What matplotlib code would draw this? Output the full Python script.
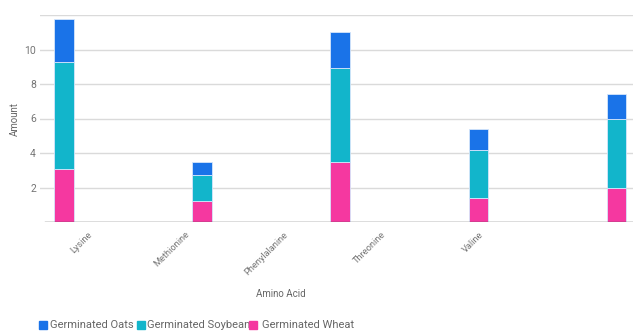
import matplotlib
matplotlib.use("Agg")
import matplotlib.pyplot as plt
from matplotlib.patches import Rectangle
import numpy as np

plt.rcParams['font.family'] = ['Roboto', 'DejaVu Sans']

acids = ['Lysine', 'Methionine', 'Phenylalanine', 'Threonine', 'Valine']
wheat = [3.1, 1.2, 3.5, 1.4, 2.0]
soybeans = [6.2, 1.5, 5.4, 2.8, 4.0]
oats = [2.45, 0.8, 2.1, 1.2, 1.4]
series_names = ['Germinated Oats', 'Germinated Soybeans', 'Germinated Wheat']
colors = {'oats': '#1a73e8', 'soy': '#12b5cb', 'wheat': '#f538a0'}

W, H = 633, 331
fig = plt.figure(figsize=(W / 100, H / 100), dpi=100)
ax = fig.add_axes([40 / W, 109 / H, 593 / W, 207 / H])

x = np.arange(len(acids))
wheat = np.array(wheat)
soybeans = np.array(soybeans)
oats = np.array(oats)
bw = 0.138
edge = dict(edgecolor='#d6e6fb', linewidth=0.6)
ax.bar(x, wheat, bw, color=colors['wheat'], zorder=3, **edge)
ax.bar(x, soybeans, bw, bottom=wheat, color=colors['soy'], zorder=3, **edge)
ax.bar(x, oats, bw, bottom=wheat + soybeans, color=colors['oats'], zorder=3, **edge)

ax.set_xlim(-0.174, 4.123)
ax.set_ylim(0, 12)
for s in ax.spines.values():
    s.set_visible(False)

# grid
for v in [2, 4, 6, 8, 10, 12]:
    ax.axhline(v, color='#dadada', lw=1, zorder=1)
ax.axhline(0, color='#555555', lw=1, zorder=4, xmin=0.008)

ax.set_yticks([2, 4, 6, 8, 10])
ax.tick_params(axis='y', length=0, pad=3, labelsize=7.5, labelcolor='#757575')

# x labels (offset as in the source rendering)
label_pos = 0.19 + 0.71 * x
ax.set_xticks(label_pos)
ax.set_xticklabels(acids, rotation=45, ha='right', va='center', rotation_mode='anchor')
ax.tick_params(axis='x', length=0, pad=8, labelsize=6.7, labelcolor='#757575')

ax.set_ylabel('Amount', fontsize=7, color='#666666', labelpad=3)
ax.set_xlabel('Amino Acid', fontsize=7, color='#666666')
ax.xaxis.set_label_coords((281 - 40) / 593, -(289 - 222) / 207)

# legend (manual, overlapping like the source)
sq_x = [39, 137, 249]
tx_x = [50, 147, 262]
keys = ['oats', 'soy', 'wheat']
for sx, tx, k, name in zip(sq_x, tx_x, keys, series_names):
    fig.add_artist(Rectangle((sx / W, 1 - 328.5 / H), 7.5 / W, 7.5 / H,
                             transform=fig.transFigure, color=colors[k], zorder=1))
    fig.text(tx / W, 1 - 324.5 / H, name, fontsize=8, color='#666666',
             va='center', ha='left', zorder=0)

fig.savefig('out.png', dpi=100)
